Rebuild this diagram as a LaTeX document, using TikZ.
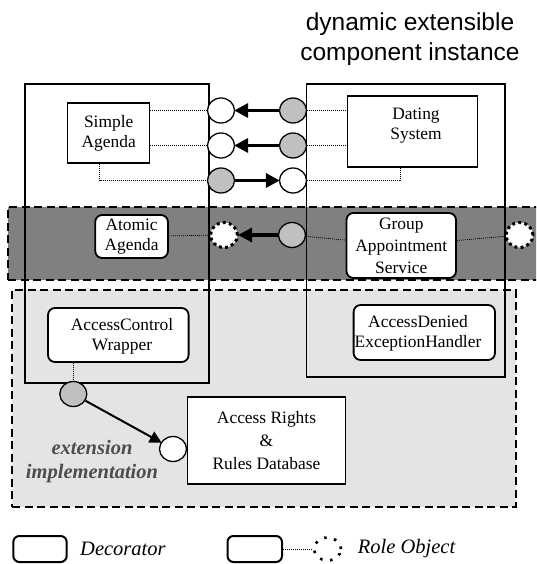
\documentclass[tikz,border=0pt]{standalone}
\usepackage{fontspec}
\setmainfont{Liberation Serif}
\newfontfamily\headfont{Liberation Sans}
\usetikzlibrary{arrows.meta,shapes.geometric}
\definecolor{bandgray}{HTML}{808080}
\definecolor{extgray}{HTML}{E4E4E4}
\definecolor{portgray}{HTML}{C0C0C0}
\definecolor{extlabel}{HTML}{4D4D4D}
\begin{document}
\begin{tikzpicture}[x=1pt,y=-1pt,
  lbl/.style={font=\fontsize{17.4}{20}\selectfont, align=center, inner sep=0pt},
  container/.style={draw, line width=1.8pt, rectangle, inner sep=0pt},
  plainbox/.style={draw, fill=white, line width=1.4pt, rectangle, inner sep=0pt, align=center,
    font=\fontsize{17.4}{20}\selectfont},
  decorator/.style={draw, fill=white, line width=1.8pt, rounded corners=7pt, inner sep=0pt,
    align=center, font=\fontsize{17.4}{20}\selectfont},
  band/.style={draw, line width=2.2pt, dash pattern=on 8pt off 4.5pt, rectangle, inner sep=0pt},
  port/.style={ellipse, draw, line width=1.3pt, minimum width=27pt, minimum height=25pt, inner sep=0pt},
  provided/.style={port, fill=portgray},
  required/.style={port, fill=white},
  roleobj/.style={ellipse, draw, fill=white, line width=3pt, dash pattern=on 3pt off 3.2pt,
    minimum width=27pt, minimum height=25pt, inner sep=0pt},
  link/.style={line width=0.7pt, dash pattern=on 1pt off 1pt},
  call/.style={line width=3.2pt, -{Triangle[length=14pt,width=14pt]}, shorten >=-1pt},
  callthin/.style={line width=2pt, -{Triangle[length=12pt,width=12pt]}, shorten >=-1pt},
  legendtext/.style={font=\fontsize{20.5}{24}\selectfont\itshape, anchor=west, inner sep=0pt}
]
\clip (0,0) rectangle (536,564);

% extension implementation area and role-object band
\node[band, fill=extgray, minimum width=503.3pt, minimum height=217pt] (extarea) at (263.95,398.5) {};
\node[band, fill=bandgray, minimum width=536.8pt, minimum height=73pt] (roleband) at (276.6,243.5) {};

% heading
\node[font=\headfont\fontsize{24.5}{30}\selectfont, anchor=base, inner sep=0pt] (head1) at (410,31) {dynamic extensible};
\node[font=\headfont\fontsize{24.5}{30}\selectfont, anchor=base, inner sep=0pt] (head2) at (410,61) {component instance};

% component instances
\node[container, minimum width=184.4pt, minimum height=299pt] (leftcomp) at (116.8,233.5) {};
\node[container, minimum width=198.5pt, minimum height=293pt] (rightcomp) at (405.75,230.5) {};

% core components
\node[plainbox, minimum width=82pt, minimum height=60pt] (simple) at (108.7,133) {Simple\\Agenda};
\node[plainbox, minimum width=130pt, minimum height=71pt] (dating) at (412.5,131.5) {};
\node[lbl] (datinglabel) at (416,126) {Dating\\System};

% ports between the core components
\node[required] (r1) at (221,110.5) {};
\node[required] (r2) at (221,145.5) {};
\node[provided] (p3) at (221,180.5) {};
\node[provided] (p1) at (293,110.5) {};
\node[provided] (p2) at (293,145.5) {};
\node[required] (r3) at (293,180.5) {};

\draw[link] (simple.east |- r1) -- (r1);
\draw[link] (simple.east |- r2) -- (r2);
\draw[link] ([xshift=-9.2pt]simple.south) |- (p3);
\draw[link] (p1) -- (dating.west |- p1);
\draw[link] (p2) -- (dating.west |- p2);
\draw[link] (r3) -| ([xshift=-12.5pt]dating.south);

\draw[call] (p1) -- (r1);
\draw[call] (p2) -- (r2);
\draw[call] (p3) -- (r3);

% role-object band
\node[decorator, minimum width=72.7pt, minimum height=43pt] (atomic) at (131.6,236.5) {Atomic\\Agenda};
\node[decorator, minimum width=109.5pt, minimum height=65pt, font=\fontsize{17.4}{22}\selectfont] (gas) at (401.25,245.5) {Group\\Appointment\\Service};
\node[roleobj] (role1) at (224,235) {};
\node[provided] (p4) at (292,235) {};
\node[roleobj] (role2) at (519.5,235) {};

\draw[link] (atomic) -- (role1);
\draw[link] (p4) -- (gas);
\draw[link] (gas) -- (role2);
\draw[call] (p4) -- (role1);

% extension implementation
\node[decorator, minimum width=140.6pt, minimum height=54pt] (acw) at (118.3,335) {};
\node[lbl] (acwlabel) at (122,336) {AccessControl\\Wrapper};
\node[decorator, minimum width=141.4pt, minimum height=55pt] (adeh) at (424.3,332.5) {};
\node[lbl] (adehlabel) at (418,333) {AccessDenied\\ExceptionHandler};

\node[plainbox, minimum width=157.8pt, minimum height=87pt, font=\fontsize{17.4}{23}\selectfont] (rights) at (266.5,440.5) {Access Rights\\\&\\Rules Database};

\node[provided] (p5) at (73.3,394) {};
\node[required] (r5) at (173,449) {};
\draw[link] (acw.south -| p5) -- (p5);
\draw[callthin] (p5) -- (r5);

\node[font=\fontsize{20.5}{24}\selectfont\bfseries\itshape, text=extlabel, align=center, inner sep=0pt] (extlabel) at (92,462) {extension\\implementation};

% legend
\node[draw, line width=2pt, rounded corners=6pt, minimum width=53.3pt, minimum height=26pt, inner sep=0pt] (legdeco) at (40,549) {};
\node[legendtext] (legdecotext) at (80,549) {Decorator};
\node[draw, line width=2pt, rounded corners=6pt, minimum width=54.5pt, minimum height=26pt, inner sep=0pt] (legrolebox) at (254.75,549) {};
\node[ellipse, draw, line width=2.6pt, dash pattern=on 2.6pt off 7.6pt, minimum width=27pt, minimum height=23pt, inner sep=0pt] (legrole) at (327.5,549) {};
\draw[link] (legrolebox) -- (legrole);
\node[legendtext] (legroletext) at (357.7,549) {Role Object};
\end{tikzpicture}
\end{document}
